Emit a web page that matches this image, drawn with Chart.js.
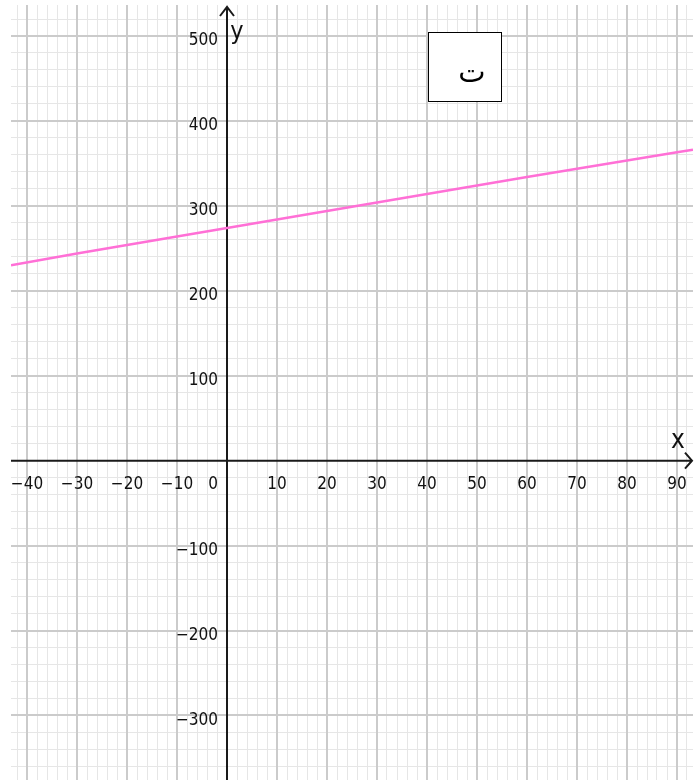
<!DOCTYPE html>
<html>
<head>
<meta charset="utf-8">
<script src="https://cdn.jsdelivr.net/npm/chart.js@4"></script>
<style>
  html, body { margin: 0; padding: 0; background: #ffffff; }
  canvas { display: block; }
</style>
</head>
<body>
<canvas id="c" width="699" height="780"></canvas>
<script>
// ---- data ----
const xTickValues = [-40, -30, -20, -10, 0, 10, 20, 30, 40, 50, 60, 70, 80, 90];
const xTickLabels = ['−40', '−30', '−20', '−10', '0', '10', '20', '30', '40', '50', '60', '70', '80', '90'];
const yTickValues = [500, 400, 300, 200, 100, 0, -100, -200, -300];
const yTickLabels = ['500', '400', '300', '200', '100', '', '−100', '−200', '−300'];
const lineX = [-43.2, -30, -20, 0, 30, 60, 90, 93.2];
const lineY = [230, 244, 254, 274, 304, 334, 363, 366];
const boxLabel = 'ت';
const xAxisName = 'x';
const yAxisName = 'y';

const X_MIN = -43.2, X_MAX = 93.2, Y_MIN = -376, Y_MAX = 536.5;
const xMinorValues = [];
for (let v = -42; v <= 92; v += 2) xMinorValues.push(v);
const yMinorValues = [];
for (let v = -360; v <= 520; v += 20) yMinorValues.push(v);

const majorColor = '#cbcbcb';
const minorColor = '#e6e6e6';

function gridScale(axis, min, max, values, color, width, z) {
  return {
    type: 'linear', axis: axis, min: min, max: max, display: true, z: z,
    ticks: { display: false },
    border: { display: false },
    grid: { drawTicks: false, color: color, lineWidth: width },
    afterBuildTicks: (s) => { s.ticks = values.map(v => ({ value: v })); }
  };
}

const overlay = {
  id: 'overlay',
  beforeDatasetsDraw(chart) {
    const ctx = chart.ctx, xs = chart.scales.x, ys = chart.scales.y, a = chart.chartArea;
    const x0 = xs.getPixelForValue(0), y0 = ys.getPixelForValue(0);
    ctx.save();
    ctx.strokeStyle = '#1a1a1a';
    ctx.lineWidth = 2;
    // x axis
    const xTip = a.right - 1;
    ctx.beginPath();
    ctx.moveTo(a.left, y0); ctx.lineTo(xTip, y0);
    ctx.moveTo(xTip - 7, y0 - 8); ctx.lineTo(xTip, y0); ctx.lineTo(xTip - 7, y0 + 8);
    // y axis
    const yTip = a.top + 2;
    ctx.moveTo(x0, a.bottom); ctx.lineTo(x0, yTip);
    ctx.moveTo(x0 - 7, yTip + 9); ctx.lineTo(x0, yTip); ctx.lineTo(x0 + 7, yTip + 9);
    ctx.stroke();

    // tick labels
    ctx.fillStyle = '#111';
    ctx.font = "17px 'DejaVu Sans Condensed', 'DejaVu Sans', sans-serif";
    ctx.textBaseline = 'middle';
    xTickValues.forEach((v, i) => {
      const px = xs.getPixelForValue(v);
      if (v === 0) {
        ctx.textAlign = 'right';
        ctx.fillText(xTickLabels[i], x0 - 9, y0 + 24);
      } else {
        ctx.textAlign = 'center';
        ctx.fillText(xTickLabels[i], px, y0 + 24);
      }
    });
    ctx.textAlign = 'right';
    yTickValues.forEach((v, i) => {
      if (!yTickLabels[i]) return;
      ctx.fillText(yTickLabels[i], x0 - 9, ys.getPixelForValue(v) + 5);
    });

    // axis names
    ctx.font = "26px 'DejaVu Sans Condensed', 'DejaVu Sans', sans-serif";
    ctx.textAlign = 'center';
    ctx.fillText(xAxisName, xs.getPixelForValue(90.2), y0 - 19);
    ctx.font = "25px 'DejaVu Sans Condensed', 'DejaVu Sans', sans-serif";
    ctx.fillText(yAxisName, x0 + 10, ys.getPixelForValue(500) - 4);
    ctx.restore();
  },
  afterDraw(chart) {
    const ctx = chart.ctx;
    ctx.save();
    ctx.fillStyle = '#ffffff';
    ctx.fillRect(428, 32, 74, 70);
    ctx.strokeStyle = '#000';
    ctx.lineWidth = 1;
    ctx.strokeRect(428.5, 32.5, 73, 69);
    ctx.fillStyle = '#000';
    ctx.font = "29px 'DejaVu Serif', 'DejaVu Sans', serif";
    ctx.textAlign = 'center';
    ctx.textBaseline = 'middle';
    ctx.fillText(boxLabel, 472, 74);
    ctx.restore();
  }
};

new Chart(document.getElementById('c'), {
  type: 'scatter',
  data: {
    datasets: [{
      data: lineX.map((x, i) => ({ x: x, y: lineY[i] })),
      showLine: true,
      borderColor: '#ff6fd6',
      borderWidth: 2.5,
      pointRadius: 0,
      tension: 0
    }]
  },
  options: {
    responsive: false,
    devicePixelRatio: 1,
    animation: false,
    layout: { padding: { left: 11, top: 5, right: 6, bottom: 0 } },
    plugins: { legend: { display: false }, tooltip: { enabled: false } },
    scales: {
      xMinor: gridScale('x', X_MIN, X_MAX, xMinorValues, minorColor, 1, -2),
      yMinor: gridScale('y', Y_MIN, Y_MAX, yMinorValues, minorColor, 1, -2),
      x: gridScale('x', X_MIN, X_MAX, xTickValues.filter(v => v !== 0), majorColor, 2, -1),
      y: gridScale('y', Y_MIN, Y_MAX, yTickValues.filter(v => v !== 0), majorColor, 2, -1)
    }
  },
  plugins: [overlay]
});
</script>
</body>
</html>
